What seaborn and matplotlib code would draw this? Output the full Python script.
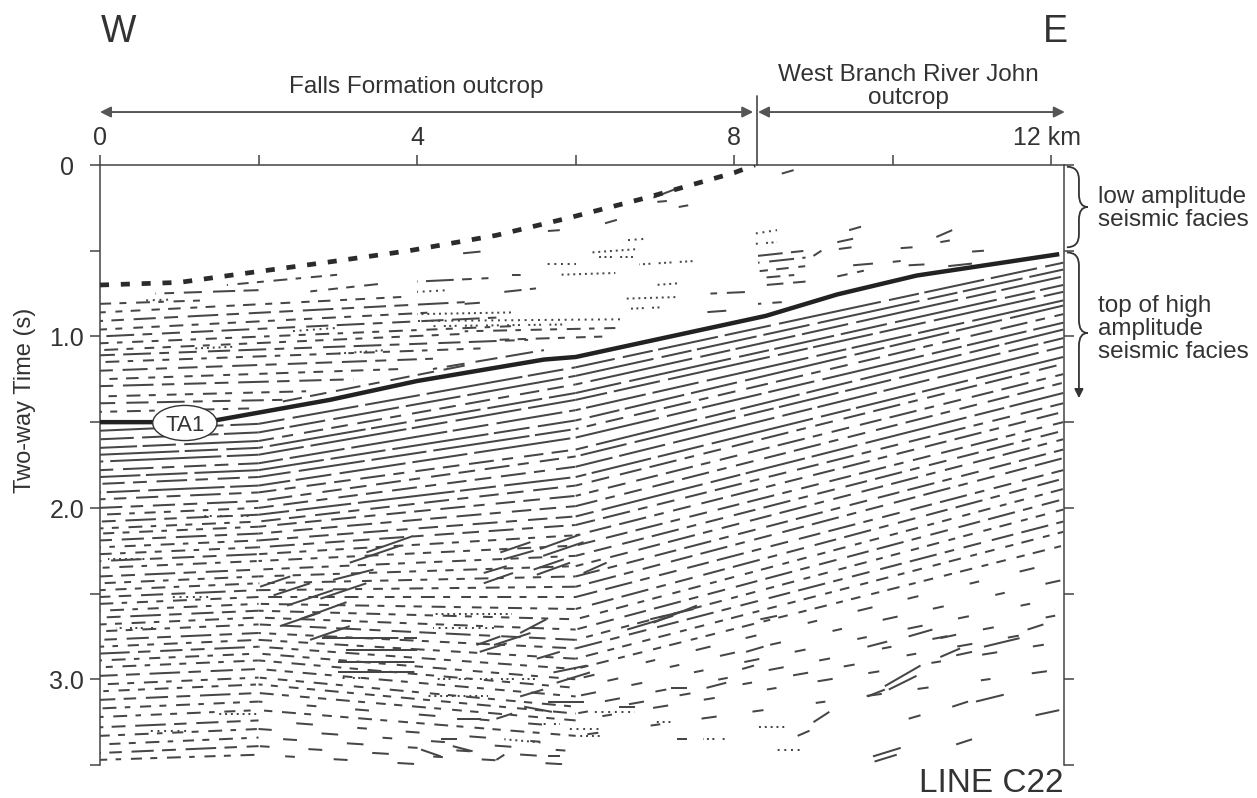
import matplotlib
matplotlib.use("Agg")
import matplotlib.pyplot as plt
import matplotlib.transforms as mtransforms
from matplotlib.patches import Ellipse, PathPatch
from matplotlib.path import Path
import seaborn as sns

# ---------------------------------------------------------------------------
# Interpreted horizons (distance along line in km, two-way time in s)
# ---------------------------------------------------------------------------
ta1_km = [0.0, 1.0, 1.45, 2.9, 4.0, 5.6, 6.0, 7.0, 8.4, 9.3, 10.3, 12.1]
ta1_twt = [1.50, 1.50, 1.49, 1.37, 1.26, 1.135, 1.12, 1.02, 0.88, 0.755, 0.645, 0.52]

# base of the low-amplitude package (dashed)
base_km = [0.0, 1.0, 1.7, 2.9, 3.9, 5.0, 5.9, 6.9, 8.0, 8.26]
base_twt = [0.70, 0.685, 0.64, 0.565, 0.50, 0.41, 0.31, 0.19, 0.045, 0.0]

# ---------------------------------------------------------------------------
# Continuous reflectors below TA1, picked at four trace positions
# ---------------------------------------------------------------------------
pick_km = [0.0, 2.0, 6.0, 12.15]
twt_at_0 = [1.55, 1.60, 1.65, 1.69, 1.73, 1.78, 1.82, 1.86, 1.91, 1.95,
            2.00, 2.04, 2.08, 2.12, 2.15, 2.19, 2.23, 2.27, 2.31, 2.35,
            2.40, 2.44, 2.48, 2.52, 2.56, 2.60, 2.64, 2.68, 2.72, 2.77,
            2.81, 2.85, 2.89, 2.93, 2.98, 3.03, 3.07, 3.12, 3.17, 3.22,
            3.28, 3.33, 3.38, 3.43, 3.47]
twt_at_2 = [1.51, 1.56, 1.61, 1.65, 1.69, 1.74, 1.78, 1.82, 1.87, 1.91,
            1.96, 2.00, 2.04, 2.08, 2.11, 2.15, 2.19, 2.23, 2.27, 2.31,
            2.36, 2.40, 2.44, 2.48, 2.52, 2.56, 2.60, 2.64, 2.68, 2.73,
            2.77, 2.81, 2.85, 2.89, 2.94, 2.99, 3.03, 3.08, 3.13, 3.18,
            3.24, 3.29, 3.34, 3.39, 3.44]
twt_at_6 = [1.18, 1.23, 1.28, 1.33, 1.37, 1.43, 1.49, 1.54, 1.59, 1.66,
            1.70, 1.76, 1.82, 1.87, 1.93, 1.99, 2.05, 2.10, 2.16, 2.22,
            2.28, 2.34, 2.40, 2.46, 2.52, 2.59, 2.65, 2.71, 2.77, 2.82,
            2.88, 2.94, 3.00, 3.05, 3.10, 3.16, 3.20, 3.24, 3.28, 3.33,
            3.38, 3.42, 3.46, 3.50, 3.55]
twt_at_12 = [0.57, 0.61, 0.65, 0.70, 0.74, 0.79, 0.82, 0.87, 0.92, 0.96,
             1.01, 1.06, 1.12, 1.16, 1.22, 1.27, 1.33, 1.39, 1.44, 1.50,
             1.55, 1.60, 1.66, 1.71, 1.78, 1.83, 1.89, 1.95, 2.01, 2.08,
             2.14, 2.22, 2.31, 2.42, 2.52, 2.62, 2.70, 2.78, 2.86, 2.94,
             3.02, 3.10, 3.18, 3.26, 3.34]
# continuity character of each reflector in the three intervals
# (L long, M medium, S short dashes, D dotted, X sparse, - absent)
continuity = ["LLL", "LLL", "LML", "LLL", "LLL", "MLL", "LLL", "MLM", "LLL", "MML",
              "MML", "SML", "MLL", "SMM", "SMM", "MMM", "SML", "SMM", "MSM", "SSM",
              "MSM", "SSM", "SSM", "MSM", "SSM", "SSM", "MSS", "SSM", "SMS", "MSM",
              "SSS", "MSS", "SSX", "SSX", "MSX", "SSX", "SSX", "MSX", "SX-", "SSX",
              "MX-", "SX-", "SX-", "MX-", "SX-"]

# ---------------------------------------------------------------------------
# Discontinuous reflector segments: (km start, twt start, km end, twt end, type)
# ---------------------------------------------------------------------------
upper_segments = [
    (0.00, 0.81, 1.30, 0.79, "S"), (0.55, 0.79, 0.90, 0.785, "D"),
    (0.70, 0.75, 2.00, 0.73, "M"), (1.60, 0.70, 3.00, 0.64, "S"),
    (2.60, 0.74, 3.60, 0.69, "S"), (0.00, 0.86, 3.80, 0.77, "S"),
    (0.00, 0.91, 4.60, 0.80, "M"), (0.00, 0.96, 4.20, 0.86, "S"),
    (0.00, 1.00, 5.00, 0.89, "M"), (0.00, 1.04, 5.20, 0.94, "S"),
    (0.00, 1.08, 4.60, 0.985, "S"), (0.00, 1.11, 5.40, 1.02, "M"),
    (0.00, 1.15, 4.80, 1.07, "S"), (0.00, 1.20, 4.20, 1.13, "M"),
    (0.00, 1.25, 3.80, 1.19, "S"), (0.00, 1.29, 3.20, 1.25, "M"),
    (0.00, 1.35, 2.60, 1.32, "S"), (0.00, 1.39, 2.30, 1.37, "M"),
    (0.00, 1.44, 1.90, 1.42, "S"), (2.30, 1.38, 4.60, 1.17, "M"),
    (4.20, 1.19, 5.60, 1.08, "M"), (1.20, 1.07, 1.70, 1.06, "D"),
    (2.40, 0.97, 3.00, 0.95, "D"), (3.00, 1.10, 3.60, 1.08, "D"),
    (6.20, 0.51, 6.80, 0.49, "D"), (5.60, 0.58, 6.00, 0.58, "D"),
    (6.80, 0.58, 7.50, 0.56, "D"), (5.80, 0.64, 6.50, 0.63, "D"),
    (5.20, 0.64, 5.40, 0.64, "S"), (4.00, 0.68, 4.90, 0.66, "M"),
    (7.00, 0.70, 7.30, 0.69, "D"), (4.00, 0.74, 4.40, 0.73, "D"),
    (5.10, 0.74, 5.50, 0.72, "M"), (6.60, 0.78, 7.30, 0.77, "D"),
    (4.60, 0.81, 4.90, 0.80, "M"), (6.60, 0.84, 7.10, 0.83, "D"),
    (4.00, 0.87, 5.20, 0.86, "D"), (4.00, 0.91, 6.60, 0.90, "D"),
    (4.20, 0.94, 5.90, 0.93, "D"), (4.60, 0.97, 6.60, 0.95, "S"),
    (5.00, 1.02, 6.40, 1.00, "S"), (7.70, 0.75, 8.20, 0.74, "M"),
    (7.60, 0.86, 7.90, 0.85, "M"),
    (6.98, 0.19, 7.29, 0.135, "L"), (7.03, 0.215, 7.15, 0.21, "L"),
    (7.30, 0.245, 7.42, 0.235, "L"), (6.37, 0.34, 6.52, 0.32, "L"),
    (5.65, 0.385, 5.80, 0.38, "L"), (4.58, 0.515, 4.80, 0.505, "L"),
    (6.60, 0.44, 6.90, 0.43, "D"), (6.27, 0.535, 6.80, 0.535, "D"),
    (8.30, 0.53, 8.90, 0.50, "M"), (8.30, 0.57, 8.90, 0.54, "M"),
    (8.30, 0.62, 8.90, 0.59, "S"), (8.30, 0.66, 8.80, 0.64, "S"),
    (8.40, 0.70, 8.90, 0.68, "M"), (8.30, 0.81, 8.60, 0.80, "M"),
    (8.60, 0.05, 8.75, 0.03, "L"), (8.26, 0.40, 8.54, 0.38, "D"),
    (8.26, 0.46, 8.54, 0.45, "D"), (9.00, 0.53, 9.10, 0.50, "L"),
    (9.45, 0.38, 9.60, 0.36, "L"), (9.30, 0.45, 9.50, 0.43, "L"),
    (9.32, 0.49, 9.48, 0.48, "L"), (10.10, 0.485, 10.25, 0.48, "L"),
    (10.55, 0.42, 10.75, 0.38, "L"), (10.60, 0.45, 10.72, 0.44, "L"),
    (11.00, 0.505, 11.15, 0.50, "L"), (9.30, 0.65, 9.70, 0.61, "S"),
    (9.50, 0.585, 9.75, 0.575, "L"), (10.00, 0.565, 10.10, 0.56, "L"),
    (10.20, 0.585, 10.40, 0.58, "L"), (10.70, 0.59, 11.00, 0.575, "L"),
]

# offlapping / shingled reflectors in the middle of the section
shingled_segments = [
    (2.02, 2.46, 2.40, 2.40, "L"), (2.19, 2.51, 2.65, 2.44, "L"),
    (2.36, 2.57, 2.94, 2.48, "L"), (2.27, 2.69, 2.78, 2.61, "L"),
    (2.52, 2.65, 3.11, 2.55, "L"), (2.78, 2.53, 3.36, 2.44, "L"),
    (2.94, 2.42, 3.45, 2.36, "L"), (3.15, 2.32, 3.79, 2.22, "L"),
    (3.36, 2.26, 3.95, 2.164, "L"), (2.65, 2.77, 3.15, 2.69, "L"),
    (5.05, 2.26, 5.43, 2.20, "L"), (5.09, 2.30, 5.47, 2.25, "L"),
    (5.55, 2.24, 6.06, 2.155, "L"), (5.59, 2.28, 6.10, 2.20, "L"),
    (5.51, 2.39, 5.93, 2.32, "L"), (5.47, 2.36, 5.85, 2.30, "L"),
    (6.10, 2.38, 6.39, 2.32, "L"), (4.84, 2.38, 5.13, 2.34, "L"),
    (4.84, 2.44, 5.21, 2.38, "L"), (4.75, 2.80, 5.05, 2.75, "L"),
    (4.79, 2.84, 5.13, 2.79, "L"), (4.97, 2.80, 5.43, 2.73, "L"),
    (5.30, 2.73, 5.63, 2.65, "L"), (5.51, 2.88, 5.80, 2.84, "L"),
    (5.72, 2.96, 6.14, 2.92, "L"), (5.76, 3.02, 6.18, 2.96, "L"),
    (5.30, 3.10, 5.59, 3.06, "L"), (6.94, 2.65, 7.49, 2.59, "L"),
    (6.65, 2.71, 7.23, 2.63, "L"), (6.98, 2.67, 7.53, 2.57, "L"),
    (4.20, 2.62, 5.20, 2.62, "D"), (4.20, 2.70, 5.00, 2.70, "D"),
    (4.20, 3.00, 5.50, 3.00, "D"), (4.10, 3.10, 4.90, 3.10, "D"),
    (2.80, 2.76, 4.00, 2.76, "L"), (3.10, 2.83, 4.00, 2.83, "L"),
    (3.00, 2.90, 4.00, 2.90, "L"), (3.00, 2.96, 4.00, 2.96, "L"),
    (3.05, 2.99, 3.35, 2.99, "D"), (0.10, 2.30, 0.60, 2.30, "D"),
    (0.90, 2.52, 1.40, 2.52, "D"), (0.20, 2.70, 0.70, 2.70, "D"),
    (1.50, 3.20, 2.00, 3.20, "D"), (0.60, 3.30, 1.10, 3.30, "D"),
    (1.30, 2.05, 1.90, 2.05, "D"),
]

# isolated reflector segments in the deep eastern part
deep_segments = [
    (9.68, 2.81, 9.93, 2.78, "L"), (10.20, 2.75, 10.50, 2.71, "L"),
    (10.60, 2.76, 10.80, 2.74, "L"), (10.60, 2.87, 10.85, 2.82, "L"),
    (10.80, 2.86, 11.00, 2.84, "L"), (11.15, 2.81, 11.60, 2.76, "L"),
    (11.70, 2.71, 11.90, 2.68, "L"), (9.68, 3.10, 9.90, 3.06, "L"),
    (9.90, 3.04, 10.35, 2.92, "L"), (9.95, 3.06, 10.30, 2.98, "L"),
    (10.20, 3.23, 10.35, 3.21, "L"), (10.75, 3.16, 10.95, 3.13, "L"),
    (11.05, 3.13, 11.40, 3.09, "L"), (11.80, 3.21, 12.10, 3.18, "L"),
    (9.75, 3.45, 10.10, 3.40, "L"), (9.77, 3.48, 10.05, 3.44, "L"),
    (10.80, 3.38, 11.00, 3.35, "L"), (8.15, 2.84, 8.37, 2.81, "L"),
    (8.10, 2.94, 8.25, 2.92, "L"), (7.20, 3.05, 7.40, 3.05, "L"),
    (7.65, 3.05, 7.90, 3.02, "L"), (9.00, 3.25, 9.20, 3.19, "L"),
    (8.80, 3.33, 8.95, 3.30, "L"), (7.28, 3.35, 7.40, 3.35, "L"),
    (8.30, 3.28, 8.65, 3.28, "D"), (8.50, 3.41, 8.85, 3.41, "D"),
    (7.60, 3.35, 7.90, 3.35, "D"), (7.00, 3.25, 7.20, 3.25, "D"),
    (8.33, 2.65, 8.54, 2.63, "L"), (5.00, 3.47, 5.10, 3.44, "L"),
    (5.65, 3.45, 5.80, 3.45, "L"), (4.30, 3.35, 4.50, 3.35, "L"),
    (4.05, 3.41, 4.30, 3.45, "L"), (4.45, 3.39, 4.70, 3.42, "L"),
    (4.50, 3.23, 4.80, 3.23, "L"), (5.00, 3.23, 5.20, 3.20, "L"),
    (5.35, 3.16, 5.70, 3.19, "L"), (5.65, 3.13, 6.10, 3.13, "L"),
    (6.55, 3.16, 6.75, 3.16, "L"), (5.10, 3.35, 5.60, 3.37, "D"),
    (5.90, 3.29, 6.35, 3.29, "D"), (5.55, 3.26, 5.80, 3.26, "D"),
    (6.05, 3.33, 6.35, 3.33, "D"), (6.20, 3.19, 6.75, 3.19, "D"),
]

# Annotation content
outcrops = [("Falls Formation outcrop", 0.0, 8.24), ("West Branch River John", 8.30, 12.17)]
outcrop_boundary_km = 8.29
facies_low = (0.01, 0.245, 0.48)     # top, middle, bottom (s)
facies_high = (0.51, 0.98, 1.36)     # top, brace tip, arrow end (s)
km_ticks = [0, 2, 4, 6, 8, 10, 12]
km_labels = {0: "0", 4: "4", 8: "8"}
twt_ticks = [0, 0.5, 1.0, 1.5, 2.0, 2.5, 3.0, 3.5]
twt_labels = {0: "0", 1.0: "1.0", 2.0: "2.0", 3.0: "3.0"}

# ---------------------------------------------------------------------------
sns.set_theme(style="white")
plt.rcParams["font.family"] = ["Liberation Sans", "DejaVu Sans"]
plt.rcParams["lines.scale_dashes"] = False

INK = "#333333"
REFL = "#464646"
# several dash variants per continuity type so neighbouring reflectors break differently
DASHES = {
    "L": [(55, 4, 30, 5, 80, 4, 24, 6), (40, 5, 70, 4, 26, 6, 48, 5),
          (75, 6, 22, 4, 44, 5, 34, 6)],
    "M": [(16, 6, 10, 7, 22, 6, 9, 7), (12, 7, 18, 6, 8, 8, 14, 6),
          (20, 6, 7, 7, 13, 8, 16, 6)],
    "S": [(8, 6, 5, 7, 10, 6, 4, 7), (6, 7, 10, 6, 5, 8, 7, 6),
          (9, 7, 5, 6, 7, 8, 6, 6)],
    "D": [(1.4, 2.8), (1.4, 3.4), (1.4, 2.5, 1.4, 2.5, 1.4, 6)],
    "X": [(9, 26, 6, 34, 12, 30), (12, 32, 7, 28, 10, 36), (7, 30, 11, 26, 8, 38)],
}
PHI = 0.6180339887


def draw_reflector(ax, xs, ys, kind, n):
    if kind == "-":
        return
    variants = DASHES[kind]
    seq = variants[n % len(variants)]
    period = sum(seq)
    offset = ((n * PHI) % 1.0) * period
    ax.plot(xs, ys, color=REFL, lw=1.45, linestyle=(offset, seq),
            dash_capstyle="butt", solid_capstyle="butt", zorder=2)


fig = plt.figure(figsize=(12.57, 7.98), dpi=100)
ax = fig.add_axes([100 / 1257, 33 / 798, 964 / 1257, 600 / 798])
ax.set_xlim(0, 12.16)
ax.set_ylim(3.5, 0)

# continuous reflectors
for n in range(len(twt_at_0)):
    t = [twt_at_0[n], twt_at_2[n], twt_at_6[n], twt_at_12[n]]
    for i in range(3):
        draw_reflector(ax, pick_km[i:i + 2], t[i:i + 2], continuity[n][i], n * 3 + i)

# discontinuous segments
for group in (upper_segments, shingled_segments, deep_segments):
    for n, (x0, t0, x1, t1, kind) in enumerate(group):
        draw_reflector(ax, [x0, x1], [t0, t1], kind, 0 if kind == "L" else n)

# interpreted horizons
sns.lineplot(x=base_km, y=base_twt, ax=ax, sort=False, estimator=None,
             color="#2b2b2b", lw=3.4, linestyle=(0, (6.5, 8.5)),
             dash_capstyle="butt", zorder=4)
sns.lineplot(x=ta1_km, y=ta1_twt, ax=ax, sort=False, estimator=None,
             color="#222222", lw=3.2, zorder=4, solid_capstyle="butt")
ax.add_patch(Ellipse((1.07, 1.505), 0.81, 0.205, facecolor="white",
                     edgecolor="#333333", lw=1.0, zorder=5))
ax.text(1.07, 1.505, "TA1", ha="center", va="center_baseline", fontsize=16,
        color=INK, zorder=6)

# axes frame and ticks
ax.set_xlabel("")
ax.set_ylabel("")
ax.spines["bottom"].set_visible(False)
for side in ("left", "top", "right"):
    ax.spines[side].set_color("#444444")
    ax.spines[side].set_linewidth(1.1)
ax.set_xticks(km_ticks)
ax.set_yticks(twt_ticks)
ax.tick_params(axis="x", bottom=False, top=True, labelbottom=False, labeltop=False,
               direction="out", length=7.2, width=1.1, color="#444444")
ax.tick_params(axis="y", left=True, right=True, labelleft=False, labelright=False,
               direction="out", length=7.2, width=1.1, color="#444444")
ax.grid(False)

for km, lab in km_labels.items():
    ax.text(km, -0.117, lab, ha="center", va="baseline", fontsize=18, color=INK)
ax.text(11.94, -0.117, "12 km", ha="center", va="baseline", fontsize=18, color=INK)
for t, lab in twt_labels.items():
    ax.text(-0.42, t + 0.058, lab, ha="center", va="baseline", fontsize=18, color=INK)
ax.text(-0.95, 1.375, "Two-way Time (s)", rotation=90, ha="center", va="center",
        fontsize=17, color=INK)

# compass
ax.text(0.23, -0.716, "W", ha="center", va="baseline", fontsize=27, color=INK)
ax.text(12.05, -0.716, "E", ha="center", va="baseline", fontsize=27, color=INK)

# outcrop extents
for name, k0, k1 in outcrops:
    ax.annotate("", xy=(k0, -0.309), xytext=(k1, -0.309), annotation_clip=False,
                arrowprops=dict(arrowstyle="<|-|>", color="#555555", lw=1.4,
                                mutation_scale=16, shrinkA=0, shrinkB=0))
ax.plot([outcrop_boundary_km] * 2, [-0.40, 0.0], color="#555555", lw=1.3, clip_on=False)
ax.text(3.99, -0.419, outcrops[0][0], ha="center", va="baseline", fontsize=17.5, color=INK)
ax.text(10.2, -0.49, outcrops[1][0], ha="center", va="baseline", fontsize=17.5, color=INK)
ax.text(10.2, -0.355, "outcrop", ha="center", va="baseline", fontsize=17.5, color=INK)

# facies braces on the right-hand side
trans = mtransforms.blended_transform_factory(ax.transAxes, ax.transData)
xa, xb, xc = 1.003, 1.0155, 1.0245
r = 0.075
y0, ym, y1 = facies_low
brace = Path([(xa, y0), (xb, y0), (xb, y0 + r), (xb, ym - r), (xb, ym), (xc, ym),
              (xb, ym), (xb, ym + r), (xb, y1 - r), (xb, y1), (xa, y1)],
             [Path.MOVETO, Path.CURVE3, Path.CURVE3, Path.LINETO, Path.CURVE3, Path.CURVE3,
              Path.CURVE3, Path.CURVE3, Path.LINETO, Path.CURVE3, Path.CURVE3])
ax.add_patch(PathPatch(brace, fill=False, edgecolor=INK, lw=1.3, transform=trans,
                       clip_on=False))
y0, ym, y1 = facies_high
brace2 = Path([(xa, y0), (xb, y0), (xb, y0 + r), (xb, ym - r), (xb, ym), (xc, ym),
               (xb, ym), (xb, ym + r)],
              [Path.MOVETO, Path.CURVE3, Path.CURVE3, Path.LINETO, Path.CURVE3, Path.CURVE3,
               Path.CURVE3, Path.CURVE3])
ax.add_patch(PathPatch(brace2, fill=False, edgecolor=INK, lw=1.3, transform=trans,
                       clip_on=False))
ax.annotate("", xy=(xb, y1), xytext=(xb, ym + r), xycoords=trans, textcoords=trans,
            annotation_clip=False,
            arrowprops=dict(arrowstyle="-|>", color=INK, lw=1.3, mutation_scale=13,
                            shrinkA=0, shrinkB=0))
ax.text(1.0353, 0.255, "low amplitude\nseismic facies", transform=trans, ha="left",
        va="center", fontsize=17.5, color=INK, linespacing=1.05)
ax.text(1.0353, 0.955, "top of high\namplitude\nseismic facies", transform=trans,
        ha="left", va="center", fontsize=17.5, color=INK, linespacing=1.05)

ax.text(0.999, 3.655, "LINE C22", transform=trans, ha="right", va="baseline",
        fontsize=24, color=INK)

fig.savefig("out.png", dpi=100, facecolor="white")
